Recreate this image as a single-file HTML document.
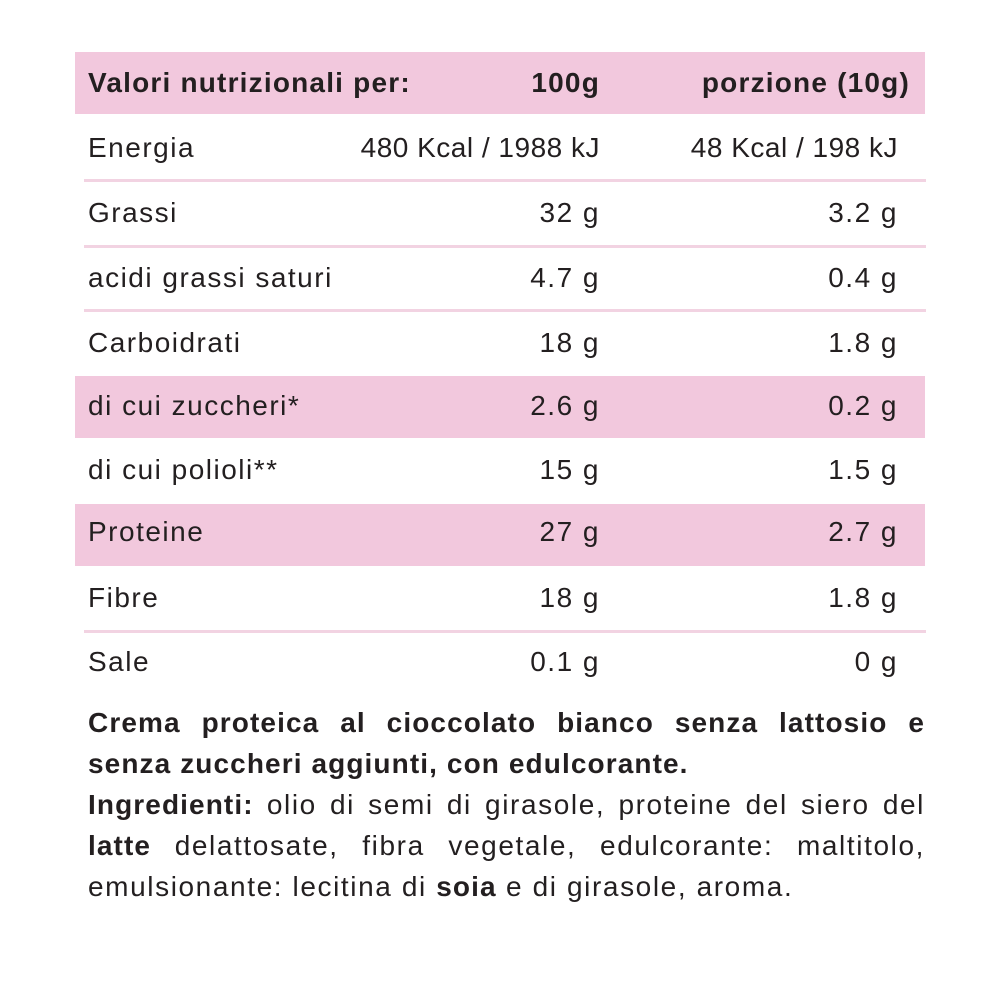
<!DOCTYPE html>
<html><head><style>
body{margin:0;width:1000px;height:1000px;background:#fff;font-family:"Liberation Sans",sans-serif;color:#231f20;position:relative;overflow:hidden}
.pk{position:absolute;left:75px;width:850px;background:#f2c8dd}
.ln{position:absolute;left:84px;width:842px;height:3px;background:#f2d3e2}
.t{position:absolute;font-size:28px;line-height:32px;white-space:nowrap;letter-spacing:1.5px}
.l{left:88px}
.c{right:400px;text-align:right}
.r{right:102px;text-align:right}
.b{font-weight:bold;letter-spacing:1.2px}
.p{position:absolute;left:88px;width:837px;font-size:28px;line-height:41px;letter-spacing:1.6px;white-space:nowrap}
.p b{letter-spacing:1.1px}
.j{text-align:justify;text-align-last:justify;white-space:normal}
</style></head><body>
<div class="pk" style="top:52px;height:62px"></div>
<div class="pk" style="top:376px;height:62px"></div>
<div class="pk" style="top:504px;height:62px"></div>
<div class="ln" style="top:179px"></div>
<div class="ln" style="top:245px"></div>
<div class="ln" style="top:309px"></div>
<div class="ln" style="top:630px"></div>
<div class="t l b" style="top:67px">Valori nutrizionali per:</div>
<div class="t c b" style="top:67px">100g</div>
<div class="t r b" style="top:67px;right:90px">porzione (10g)</div>
<div class="t l" style="top:132px">Energia</div><div class="t c" style="top:132px;letter-spacing:0.5px">480 Kcal / 1988 kJ</div><div class="t r" style="top:132px;letter-spacing:0.5px">48 Kcal / 198 kJ</div>
<div class="t l" style="top:197px">Grassi</div><div class="t c" style="top:197px">32 g</div><div class="t r" style="top:197px">3.2 g</div>
<div class="t l" style="top:262px">acidi grassi saturi</div><div class="t c" style="top:262px">4.7 g</div><div class="t r" style="top:262px">0.4 g</div>
<div class="t l" style="top:327px">Carboidrati</div><div class="t c" style="top:327px">18 g</div><div class="t r" style="top:327px">1.8 g</div>
<div class="t l" style="top:390px">di cui zuccheri*</div><div class="t c" style="top:390px">2.6 g</div><div class="t r" style="top:390px">0.2 g</div>
<div class="t l" style="top:454px">di cui polioli**</div><div class="t c" style="top:454px">15 g</div><div class="t r" style="top:454px">1.5 g</div>
<div class="t l" style="top:516px">Proteine</div><div class="t c" style="top:516px">27 g</div><div class="t r" style="top:516px">2.7 g</div>
<div class="t l" style="top:582px">Fibre</div><div class="t c" style="top:582px">18 g</div><div class="t r" style="top:582px">1.8 g</div>
<div class="t l" style="top:646px">Sale</div><div class="t c" style="top:646px">0.1 g</div><div class="t r" style="top:646px">0 g</div>
<div class="p j" style="top:702px"><b>Crema proteica al cioccolato bianco senza lattosio e</b></div>
<div class="p" style="top:743px"><b>senza zuccheri aggiunti, con edulcorante.</b></div>
<div class="p j" style="top:784px"><b>Ingredienti:</b> olio di semi di girasole, proteine del siero del</div>
<div class="p j" style="top:825px"><b>latte</b> delattosate, fibra vegetale, edulcorante: maltitolo,</div>
<div class="p" style="top:866px">emulsionante: lecitina di <b>soia</b> e di girasole, aroma.</div>
</body></html>
